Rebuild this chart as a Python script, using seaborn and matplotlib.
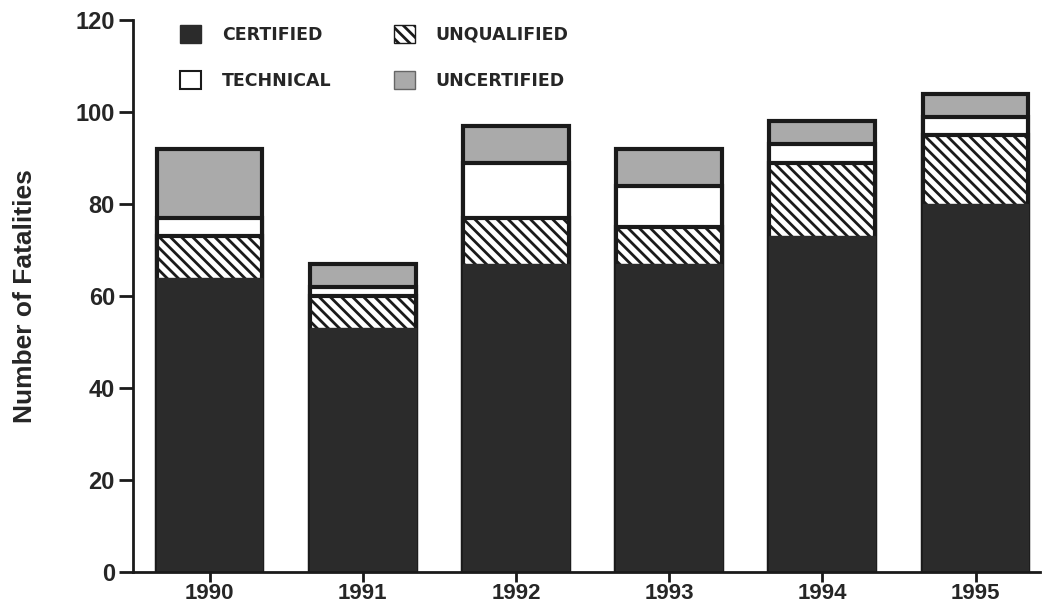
import pandas as pd
import numpy as np
import seaborn as sns
import matplotlib.pyplot as plt
from matplotlib.patches import Patch

years = ["1990", "1991", "1992", "1993", "1994", "1995"]
certified = [64, 53, 67, 67, 73, 80]
unqualified = [9, 7, 10, 8, 16, 15]
technical = [4, 2, 12, 9, 4, 4]
uncertified = [15, 5, 8, 8, 5, 5]

sns.set_style("ticks")
plt.rcParams["font.family"] = ["Liberation Sans", "DejaVu Sans"]
plt.rcParams["hatch.linewidth"] = 2.0
plt.rcParams["hatch.color"] = "#222222"

df = pd.DataFrame({"Year": years, "Certified": certified,
                   "Unqualified": unqualified, "Technical": technical,
                   "Uncertified": uncertified})
# cumulative tops so the bars can be layered from the tallest down
df["c1"] = df["Certified"]
df["c2"] = df["c1"] + df["Unqualified"]
df["c3"] = df["c2"] + df["Technical"]
df["c4"] = df["c3"] + df["Uncertified"]

fig = plt.figure(figsize=(10.43, 6.11), dpi=100)
ax = fig.add_axes([0.1275, 0.064, 0.8695, 0.903])

dark = "#2b2b2b"
gray = "#aaaaaa"
w = 0.69
sns.barplot(df, x="Year", y="c4", color=gray, edgecolor="#1a1a1a",
            linewidth=3, width=w, saturation=1, ax=ax)
sns.barplot(df, x="Year", y="c3", color="white", edgecolor="#1a1a1a",
            linewidth=3, width=w, saturation=1, ax=ax)
sns.barplot(df, x="Year", y="c2", color="white", edgecolor="#1a1a1a",
            linewidth=3, width=w, saturation=1, hatch="\\\\\\", ax=ax)
sns.barplot(df, x="Year", y="c1", color=dark, edgecolor=dark,
            linewidth=1, width=w, saturation=1, ax=ax)

ax.set_ylim(0, 120)
ax.set_xlim(-0.5, 5.42)
ax.set_yticks([0, 20, 40, 60, 80, 100, 120])
sns.despine(ax=ax)
for s in ["left", "bottom"]:
    ax.spines[s].set_linewidth(2)
    ax.spines[s].set_color("#1a1a1a")
ax.tick_params(axis="y", width=2, length=10, color="#1a1a1a",
               labelsize=17, pad=3)
ax.tick_params(axis="x", width=2, length=7, color="#1a1a1a",
               labelsize=16, pad=1)
for lab in ax.get_xticklabels() + ax.get_yticklabels():
    lab.set_fontweight("bold")
ax.set_xlabel("")
ax.set_ylabel("Number of Fatalities", fontsize=19, fontweight="bold",
              labelpad=28)

handles = [Patch(facecolor=dark, edgecolor=dark, label="CERTIFIED"),
           Patch(facecolor="white", edgecolor="#1a1a1a", linewidth=1.5,
                 label="TECHNICAL"),
           Patch(facecolor="white", edgecolor="#1a1a1a", hatch="\\\\\\",
                 label="UNQUALIFIED"),
           Patch(facecolor=gray, edgecolor="#666666", label="UNCERTIFIED")]
ax.legend(handles=handles, ncol=2, loc="upper left",
          bbox_to_anchor=(0.035, 1.02), frameon=False,
          prop={"family": "DejaVu Sans", "weight": "bold", "size": 12.5},
          handlelength=1.2, handleheight=1.2, handletextpad=1.2,
          columnspacing=3.6, labelspacing=1.6)

fig.savefig("out.png", dpi=100)
